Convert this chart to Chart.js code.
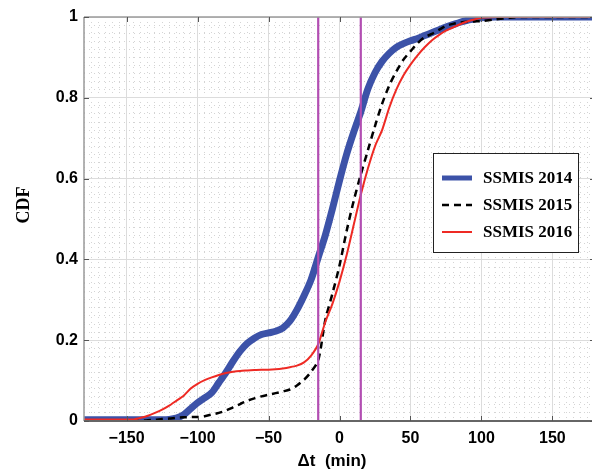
<!DOCTYPE html>
<html>
<head>
<meta charset="utf-8">
<script src="https://cdn.jsdelivr.net/npm/chart.js@4.4.1/dist/chart.umd.min.js"></script>
<style>
  html, body { margin: 0; padding: 0; background: #fff; overflow: hidden; width: 592px; height: 471px; }
  canvas { display: block; }
</style>
</head>
<body>
<canvas id="cdfChart" width="596" height="471"></canvas>
<script>
// time offset (min) shared by the three curves
var dtMin = [-180, -150, -145, -140, -135, -130, -125, -120, -115, -110,
             -105, -100, -95, -90, -85, -80, -75, -70, -65, -60,
             -55, -50, -45, -40, -35, -30, -25, -20, -15, -10,
             -5, 0, 5, 10, 15, 20, 25, 30, 35, 40,
             45, 50, 55, 60, 65, 70, 75, 80, 85, 90,
             95, 100, 110, 120, 130, 180];

var cdf2014 = [0.003, 0.003, 0.003, 0.003, 0.003, 0.003, 0.003, 0.004, 0.007, 0.015,
               0.030, 0.045, 0.057, 0.070, 0.095, 0.120, 0.148, 0.173, 0.192, 0.205,
               0.214, 0.218, 0.222, 0.230, 0.247, 0.275, 0.310, 0.350, 0.405, 0.460,
               0.525, 0.595, 0.660, 0.715, 0.765, 0.822, 0.862, 0.890, 0.910, 0.925,
               0.934, 0.941, 0.947, 0.954, 0.961, 0.968, 0.975, 0.981, 0.987, 0.992,
               0.995, 0.998, 1, 1, 1, 1];

var cdf2015 = [0, 0, 0, 0, 0.002, 0.003, 0.005, 0.006, 0.008, 0.009,
               0.010, 0.010, 0.012, 0.016, 0.020, 0.026, 0.034, 0.042, 0.050, 0.056,
               0.061, 0.065, 0.069, 0.073, 0.078, 0.088, 0.102, 0.122, 0.150, 0.250,
               0.315, 0.385, 0.470, 0.545, 0.610, 0.670, 0.730, 0.785, 0.830, 0.865,
               0.894, 0.915, 0.935, 0.950, 0.958, 0.968, 0.978, 0.983, 0.986, 0.988,
               0.989, 0.990, 0.994, 0.998, 1, 1];

var cdf2016 = [0.004, 0.004, 0.004, 0.008, 0.013, 0.020, 0.028, 0.038, 0.050, 0.062,
               0.080, 0.092, 0.101, 0.108, 0.114, 0.119, 0.122, 0.124, 0.125, 0.126,
               0.127, 0.127, 0.128, 0.130, 0.133, 0.137, 0.145, 0.162, 0.190, 0.245,
               0.290, 0.345, 0.410, 0.485, 0.560, 0.625, 0.680, 0.720, 0.775, 0.820,
               0.855, 0.882, 0.905, 0.925, 0.942, 0.955, 0.966, 0.974, 0.982, 0.989,
               0.994, 0.998, 1, 1, 1, 1];

var seriesLabels = ['SSMIS 2014', 'SSMIS 2015', 'SSMIS 2016'];
var windowEdges = [-15, 15];   // magenta markers
var xTicks = [-150, -100, -50, 0, 50, 100, 150];
var yTicks = [0, 0.2, 0.4, 0.6, 0.8, 1];

function pts(ys) {
    return dtMin.map(function (x, i) { return { x: x, y: ys[i] }; });
}

function markerLine(x) {
    return {
        label: '',
        data: [{ x: x, y: 0 }, { x: x, y: 1 }],
        borderColor: '#b24eb2',
        borderWidth: 2.2,
        pointRadius: 0,
        isMarker: true,
        order: 0
    };
}

var tickFont = { family: 'Liberation Sans', size: 16, weight: 'bold' };

function minusLabel(v) {
    return v < 0 ? '\u2212' + Math.abs(v) : String(v);
}

// frame, inward ticks, axis titles and the boxed legend
var decorations = {
    id: 'decorations',
    afterDatasetsDraw: function (chart) {
        var ctx = chart.ctx;
        var a = chart.chartArea;
        var xs = chart.scales.x, ys = chart.scales.y;
        ctx.save();
        ctx.lineWidth = 1.5;
        ctx.strokeStyle = '#9a9a9a';
        ctx.beginPath();
        ctx.moveTo(a.left, a.top); ctx.lineTo(a.right, a.top);
        ctx.moveTo(a.left, a.top); ctx.lineTo(a.left, a.bottom);
        ctx.moveTo(a.right, a.top); ctx.lineTo(a.right, a.bottom);
        ctx.stroke();
        ctx.strokeStyle = '#666';
        ctx.lineWidth = 2;
        ctx.beginPath();
        ctx.moveTo(a.left, a.bottom); ctx.lineTo(a.right, a.bottom);
        ctx.stroke();

        ctx.lineWidth = 1;
        ctx.strokeStyle = '#555';
        ctx.beginPath();
        xTicks.forEach(function (v) {
            var px = Math.round(xs.getPixelForValue(v)) + 0.5;
            ctx.moveTo(px, a.bottom); ctx.lineTo(px, a.bottom - 5);
            ctx.moveTo(px, a.top); ctx.lineTo(px, a.top + 5);
        });
        yTicks.forEach(function (v) {
            var py = Math.round(ys.getPixelForValue(v)) + 0.5;
            ctx.moveTo(a.left, py); ctx.lineTo(a.left + 5, py);
            ctx.moveTo(a.right, py); ctx.lineTo(a.right - 5, py);
        });
        ctx.stroke();

        // axis titles
        ctx.fillStyle = '#000';
        ctx.font = 'bold 17px "Liberation Sans"';
        ctx.textAlign = 'center';
        ctx.textBaseline = 'middle';
        ctx.fillText('\u0394t  (min)', 332, 461);
        ctx.save();
        ctx.translate(24, 205);
        ctx.rotate(-Math.PI / 2);
        ctx.font = 'bold 18px "Liberation Serif"';
        ctx.fillText('CDF', 0, 0);
        ctx.restore();

        // legend box
        var lx = 433, ly = 153, lw = 145, lh = 99;
        ctx.fillStyle = '#fff';
        ctx.fillRect(lx, ly, lw, lh);
        ctx.strokeStyle = '#222';
        ctx.lineWidth = 1;
        ctx.strokeRect(lx + 0.5, ly + 0.5, lw, lh);
        var rows = [178, 205, 232];
        chart.data.datasets.forEach(function (ds, i) {
            if (ds.isMarker) return;
            var y = rows[i];
            ctx.save();
            ctx.strokeStyle = ds.borderColor;
            ctx.lineWidth = Math.min(ds.borderWidth, 5);
            ctx.setLineDash(ds.borderDash || []);
            ctx.beginPath();
            ctx.moveTo(442, y); ctx.lineTo(472, y);
            ctx.stroke();
            ctx.restore();
            ctx.fillStyle = '#000';
            ctx.font = 'bold 17px "Liberation Serif"';
            ctx.textAlign = 'left';
            ctx.textBaseline = 'middle';
            ctx.fillText(ds.label, 483, y + 1);
        });
        ctx.restore();
    }
};

var ctx = document.getElementById('cdfChart').getContext('2d');
var myChart = new Chart(ctx, {
    type: 'line',
    data: {
        datasets: [{
            label: seriesLabels[0],
            data: pts(cdf2014),
            borderColor: '#3c52a8',
            borderWidth: 7,
            pointRadius: 0,
            tension: 0.3,
            order: 3
        }, {
            label: seriesLabels[1],
            data: pts(cdf2015),
            borderColor: '#000',
            borderWidth: 2.5,
            borderDash: [7, 5],
            pointRadius: 0,
            tension: 0.3,
            order: 2
        }, {
            label: seriesLabels[2],
            data: pts(cdf2016),
            borderColor: '#ee2a24',
            borderWidth: 2,
            pointRadius: 0,
            tension: 0.2,
            order: 1
        },
        markerLine(windowEdges[0]),
        markerLine(windowEdges[1])]
    },
    options: {
        responsive: false,
        animation: false,
        events: [],
        layout: { padding: { top: 17, right: 1, left: 0, bottom: 0 } },
        plugins: {
            legend: { display: false },
            tooltip: { enabled: false }
        },
        scales: {
            xMinor: {
                type: 'linear',
                position: 'bottom',
                min: -180, max: 180,
                ticks: { display: false, stepSize: 5 },
                grid: { color: '#d4d4d4', lineWidth: 1, drawTicks: false },
                border: { display: false, dash: [1, 4] },
                afterFit: function (s) { s.height = 0; }
            },
            yMinor: {
                type: 'linear',
                position: 'left',
                min: 0, max: 1,
                ticks: { display: false, stepSize: 0.02 },
                grid: { color: '#d4d4d4', lineWidth: 1, drawTicks: false },
                border: { display: false, dash: [1, 4] },
                afterFit: function (s) { s.width = 0; }
            },
            x: {
                type: 'linear',
                position: 'bottom',
                min: -180, max: 180,
                afterBuildTicks: function (s) {
                    s.ticks = xTicks.map(function (v) { return { value: v }; });
                },
                ticks: {
                    font: tickFont, color: '#000', padding: 8,
                    maxRotation: 0, autoSkip: false,
                    callback: minusLabel
                },
                grid: { color: '#dcdcdc', lineWidth: 1, drawTicks: false },
                border: { display: false },
                afterFit: function (s) { s.height = 50; }
            },
            y: {
                type: 'linear',
                position: 'left',
                min: 0, max: 1,
                afterBuildTicks: function (s) {
                    s.ticks = yTicks.map(function (v) { return { value: v }; });
                },
                ticks: {
                    font: tickFont, color: '#000', padding: 6,
                    callback: function (v) { return String(Math.round(v * 10) / 10); }
                },
                grid: { color: '#dcdcdc', lineWidth: 1, drawTicks: false },
                border: { display: false },
                afterFit: function (s) { s.width = 84; }
            }
        }
    },
    plugins: [decorations]
});
</script>
</body>
</html>
